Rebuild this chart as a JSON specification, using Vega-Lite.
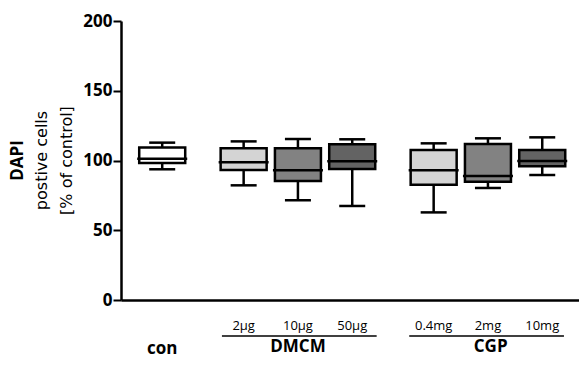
{
  "$schema": "https://vega.github.io/schema/vega-lite/v6.json",
  "width": 458,
  "height": 279,
  "autosize": {"type": "none"},
  "padding": {"left": 121, "top": 21, "right": 0, "bottom": 65},
  "background": "white",
  "config": {"view": {"stroke": null}, "font": "Open Sans"},
  "title": {
    "text": "DAPI",
    "subtitle": ["postive cells", "[% of control]"],
    "orient": "left",
    "anchor": "middle",
    "font": "Open Sans",
    "fontSize": 17,
    "fontWeight": "bold",
    "color": "black",
    "subtitleFont": "DejaVu Sans",
    "subtitleFontSize": 16,
    "subtitleFontWeight": "normal",
    "subtitleColor": "black",
    "subtitleLineHeight": 25,
    "subtitlePadding": 7,
    "offset": 7
  },
  "datasets": {
    "boxes": [
      {"label": "con", "pos": 0, "min": 93.7, "q1": 98.2, "median": 101.3, "q3": 109.4, "max": 112.8},
      {"label": "2µg", "pos": 1.5, "min": 82.2, "q1": 93.2, "median": 98.7, "q3": 108.7, "max": 113.7},
      {"label": "10µg", "pos": 2.5, "min": 71.5, "q1": 85.3, "median": 93.0, "q3": 108.7, "max": 115.4},
      {"label": "50µg", "pos": 3.5, "min": 67.4, "q1": 93.9, "median": 99.4, "q3": 111.6, "max": 115.2},
      {"label": "0.4mg", "pos": 5, "min": 62.8, "q1": 82.7, "median": 93.0, "q3": 107.5, "max": 112.3},
      {"label": "2mg", "pos": 6, "min": 80.3, "q1": 84.8, "median": 88.9, "q3": 111.8, "max": 115.9},
      {"label": "10mg", "pos": 7, "min": 89.6, "q1": 95.8, "median": 99.6, "q3": 107.5, "max": 116.6}
    ],
    "groups": [
      {"group": "DMCM", "start": 1.1, "end": 3.95, "mid": 2.5},
      {"group": "CGP", "start": 4.55, "end": 7.4, "mid": 6.05}
    ]
  },
  "layer": [
    {
      "data": {"name": "boxes"},
      "mark": {"type": "rule", "color": "black", "strokeWidth": 2.5},
      "encoding": {
        "x": {"field": "pos", "type": "quantitative", "scale": {"domain": [-0.667, 7.585], "nice": false, "zero": false},
              "axis": {"ticks": false, "labels": false, "grid": false, "title": null, "domainColor": "black", "domainWidth": 2.5}},
        "y": {"field": "min", "type": "quantitative", "scale": {"domain": [0, 200], "nice": false},
              "axis": {"values": [0, 25, 50, 75, 100, 125, 150, 175, 200],
                       "labelExpr": "datum.value % 50 === 0 ? datum.label : ''",
                       "grid": false, "title": null,
                       "domainColor": "black", "domainWidth": 2.5,
                       "tickColor": "black", "tickWidth": 2,
                       "tickSize": {"condition": {"test": "datum.value % 50 === 0", "value": 8}, "value": 4},
                       "labelFont": "Open Sans", "labelFontSize": 17, "labelFontWeight": "bold",
                       "labelColor": "black", "labelPadding": 1}},
        "y2": {"field": "max"}
      }
    },
    {
      "data": {"name": "boxes"},
      "mark": {"type": "bar", "width": 46, "stroke": "black", "strokeWidth": 2.5},
      "encoding": {
        "x": {"field": "pos", "type": "quantitative"},
        "y": {"field": "q1", "type": "quantitative"},
        "y2": {"field": "q3"},
        "color": {"field": "label", "type": "nominal", "legend": null,
                  "scale": {"domain": ["con", "2µg", "10µg", "50µg", "0.4mg", "2mg", "10mg"],
                            "range": ["#ffffff", "#d4d4d4", "#828282", "#636363", "#d4d4d4", "#828282", "#636363"]}}
      }
    },
    {
      "data": {"name": "boxes"},
      "mark": {"type": "tick", "orient": "horizontal", "size": 50, "thickness": 2.5, "color": "black", "opacity": 1},
      "encoding": {
        "x": {"field": "pos", "type": "quantitative"},
        "y": {"field": "median", "type": "quantitative"}
      }
    },
    {
      "data": {"name": "boxes"},
      "mark": {"type": "tick", "orient": "horizontal", "size": 26, "thickness": 2.5, "color": "black", "opacity": 1},
      "encoding": {
        "x": {"field": "pos", "type": "quantitative"},
        "y": {"field": "min", "type": "quantitative"}
      }
    },
    {
      "data": {"name": "boxes"},
      "mark": {"type": "tick", "orient": "horizontal", "size": 26, "thickness": 2.5, "color": "black", "opacity": 1},
      "encoding": {
        "x": {"field": "pos", "type": "quantitative"},
        "y": {"field": "max", "type": "quantitative"}
      }
    },
    {
      "data": {"name": "boxes"},
      "transform": [{"filter": "datum.label !== 'con'"}],
      "mark": {"type": "text", "font": "Open Sans", "fontSize": 13, "color": "black", "baseline": "alphabetic", "align": "center"},
      "encoding": {
        "x": {"field": "pos", "type": "quantitative"},
        "y": {"datum": -21.8},
        "text": {"field": "label"}
      }
    },
    {
      "data": {"name": "boxes"},
      "transform": [{"filter": "datum.label === 'con'"}],
      "mark": {"type": "text", "font": "Open Sans", "fontSize": 17, "fontWeight": "bold", "color": "black", "baseline": "alphabetic", "align": "center"},
      "encoding": {
        "x": {"field": "pos", "type": "quantitative"},
        "y": {"datum": -38.5},
        "text": {"field": "label"}
      }
    },
    {
      "data": {"name": "groups"},
      "mark": {"type": "rule", "color": "black", "strokeWidth": 1.3},
      "encoding": {
        "x": {"field": "start", "type": "quantitative"},
        "x2": {"field": "end"},
        "y": {"datum": -25.8}
      }
    },
    {
      "data": {"name": "groups"},
      "mark": {"type": "text", "font": "Open Sans", "fontSize": 17, "fontWeight": "bold", "color": "black", "baseline": "alphabetic", "align": "center"},
      "encoding": {
        "x": {"field": "mid", "type": "quantitative"},
        "y": {"datum": -37.3},
        "text": {"field": "group"}
      }
    }
  ]
}
